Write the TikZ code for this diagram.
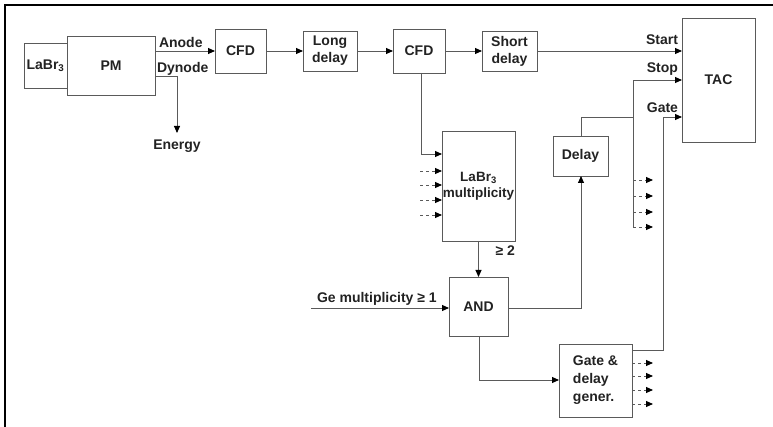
\documentclass[tikz,border=0pt]{standalone}
\usepackage{fontspec}
\setmainfont{Liberation Sans}
\usetikzlibrary{arrows.meta}
\definecolor{ln}{HTML}{5A5A5A}
\definecolor{tx}{HTML}{222222}
\begin{document}
\begin{tikzpicture}[x=1pt,y=-1pt,
  box/.style={draw=ln, line width=0.9pt, inner sep=0pt, outer sep=0pt, align=center,
    font=\bfseries\fontsize{14}{17}\selectfont, text=tx},
  lbl/.style={inner sep=0pt, outer sep=0pt, font=\bfseries\fontsize{14}{17}\selectfont, text=tx},
  wire/.style={draw=ln, line width=0.9pt},
  arr/.style={wire, -{Triangle[length=7pt,width=6pt,color=black]}},
  darr/.style={arr, dash pattern=on 3pt off 3pt}]
\useasboundingbox (0,0) rectangle (773,427);
\draw[line width=1.2pt] (5,427) -- (5,5) -- (773,5);

% boxes
\node[box, minimum width=43pt, minimum height=45pt] (labr) at (45.5,65.5) {LaBr\textsubscript{3}};
\node[box, minimum width=88pt, minimum height=59pt] (pm) at (111,65.5) {PM};
\node[box, minimum width=51pt, minimum height=44pt] (cfda) at (240.5,51) {CFD};
\node[box, minimum width=54pt, minimum height=40pt] (ldel) at (330,51) {Long\\delay};
\node[box, minimum width=52pt, minimum height=44pt] (cfdb) at (419,51) {CFD};
\node[box, minimum width=55pt, minimum height=40pt] (sdel) at (509.5,51) {Short\\delay};
\node[box, minimum width=73pt, minimum height=124pt] (tac) at (718.5,80) {TAC};
\node[box, minimum width=73pt, minimum height=110pt, font=\bfseries\fontsize{13.5}{16}\selectfont] (mult) at (478.5,186) {LaBr\textsubscript{3}\\multiplicity};
\node[box, minimum width=55pt, minimum height=40pt] (dly) at (580.5,156) {Delay};
\node[box, minimum width=59pt, minimum height=59pt] (and) at (478.5,306.5) {AND};
\node[box, minimum width=73pt, minimum height=73pt, align=left, font=\bfseries\fontsize{14}{18}\selectfont] (gdg) at (595.5,380.5) {Gate \&\\delay\\gener.};

% labels
\node[lbl, anchor=base west] (anode) at (159,48) {Anode};
\node[lbl, anchor=base west] (dynode) at (157,73) {Dynode};
\node[lbl, anchor=base] (energy) at (177,150) {Energy};
\node[lbl, anchor=base east] (start) at (678,45) {Start};
\node[lbl, anchor=base east] (stop) at (678,73) {Stop};
\node[lbl, anchor=base east] (gate) at (678,113) {Gate};
\node[lbl, anchor=base east] (ge2) at (515,256) {≥ 2};
\node[lbl, anchor=base west] (gelbl) at (317,303) {Ge multiplicity ≥ 1};

% coordinates
\coordinate (dyn) at (177,76);
\coordinate (en) at (177,133);
\coordinate (cfdturn) at (421,154);
\coordinate (gein) at (311,308);
\coordinate (andout) at (581,308);
\coordinate (dlytop) at (581,117);
\coordinate (stopj) at (633,117);
\coordinate (stopv) at (633,80);
\coordinate (stopbot) at (633,227);
\coordinate (andturn) at (479,380);
\coordinate (gout) at (663,350);
\coordinate (gtop) at (663,117);

% main chain
\draw[arr] (pm.east |- cfda.west) -- (cfda.west);
\draw[wire] (pm.east |- dyn) -- (dyn);
\draw[arr] (dyn) -- (en);
\draw[arr] (cfda) -- (ldel);
\draw[arr] (ldel) -- (cfdb);
\draw[arr] (cfdb) -- (sdel);
\draw[arr] (sdel.east) -- (tac.west |- sdel.east);

% CFD to multiplicity
\draw[arr] (cfdb.south -| cfdturn) -- (cfdturn) -- (mult.west |- cfdturn);
\foreach \yy in {171,185,200,215}
  \draw[darr] (420,\yy) -- (mult.west |- 0,\yy);
\draw[arr] (mult.south -| and.north) -- (and.north);

% Ge multiplicity
\draw[arr] (gein) -- (and.west |- gein);

% AND to delay
\draw[arr] (and.east |- andout) -- (andout) -- (dly.south -| andout);
\draw[wire] (dly.north -| dlytop) -- (dlytop) -- (stopj);
\draw[wire] (stopbot) -- (stopv);
\draw[arr] (stopv) -- (tac.west |- stopv);
\foreach \yy in {180,196,212}
  \draw[darr] (633,\yy) -- (653,\yy);
\draw[darr] (stopbot) -- (653,227);

% AND to gate & delay generator
\draw[arr] (and.south -| andturn) -- (andturn) -- (gdg.west |- andturn);
\draw[wire] (gdg.east |- gout) -- (gout) -- (gtop);
\draw[arr] (gtop) -- (tac.west |- gtop);
\foreach \yy in {363,376,390,404}
  \draw[darr] (gdg.east |- 0,\yy) -- (653,\yy);
\end{tikzpicture}
\end{document}
